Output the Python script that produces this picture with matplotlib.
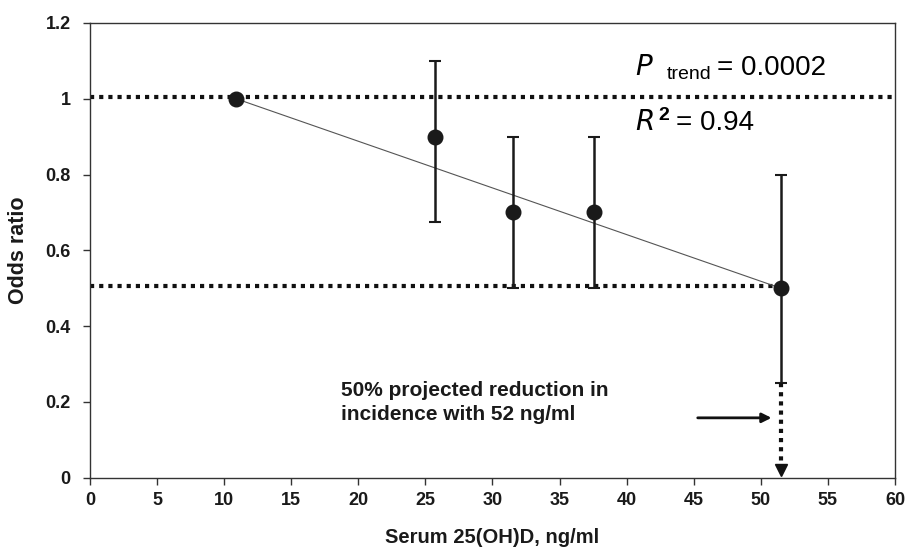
import numpy as np
import matplotlib.pyplot as plt

plt.rcParams["font.family"] = ["Liberation Sans", "DejaVu Sans"]

# Data
serum = [10.9, 25.7, 31.5, 37.6, 51.5]
odds = [1.0, 0.9, 0.7, 0.7, 0.5]
ci_low = [1.0, 0.675, 0.5, 0.5, 0.25]
ci_high = [1.0, 1.10, 0.9, 0.9, 0.8]

ref_levels = [1.005, 0.505]
arrow_y = 0.158
arrow_x = [45.3, 50.8]

fig = plt.figure(figsize=(9.06, 5.54), dpi=100)
ax = fig.add_axes([0.0993, 0.1377, 0.8885, 0.8208])

# dotted reference lines
dots = (0, (1, 1.2))
ax.plot([0, 60], [ref_levels[0]] * 2, color="#111111", lw=3, ls=dots, zorder=2)
ax.plot([0, serum[-1]], [ref_levels[1]] * 2, color="#111111", lw=3, ls=dots, zorder=2)

# trend line
ax.plot([serum[0], serum[-1]], [odds[0], odds[-1]], color="#555555", lw=0.8, zorder=3)

# error bars
yerr = [np.array(odds) - np.array(ci_low), np.array(ci_high) - np.array(odds)]
ax.errorbar(serum[1:], odds[1:], yerr=[yerr[0][1:], yerr[1][1:]], fmt="none",
            ecolor="#1a1a1a", elinewidth=1.8, capsize=4, capthick=1.5, zorder=4)
ax.plot(serum, odds, "o", color="#1a1a1a", markersize=10.5, zorder=5)

# projected vertical dotted arrow down to x axis
ax.plot([serum[-1]] * 2, [ci_low[-1], 0.015], color="#111111", lw=3, ls=dots, zorder=4)
ax.plot(serum[-1], 0.02, "v", color="#111111", markersize=8, zorder=5, clip_on=False)

# horizontal arrow pointing at it
ax.annotate("", xy=(arrow_x[1], arrow_y), xytext=(arrow_x[0], arrow_y),
            arrowprops=dict(arrowstyle="-|>", color="#111111", lw=2,
                            mutation_scale=14, shrinkA=0, shrinkB=0))

ax.text(18.7, 0.255, "50% projected reduction in\nincidence with 52 ng/ml",
        fontsize=15, fontweight="bold", va="top", ha="left", linespacing=1.35,
        color="#1a1a1a")

ax.text(40.6, 1.08, r"$\it{P}$", fontsize=20, va="center", ha="left")
ax.text(43.0, 1.063, "trend", fontsize=14, va="center", ha="left")
ax.text(46.7, 1.08, "= 0.0002", fontsize=20, va="center", ha="left")
ax.text(40.6, 0.935, r"$\it{R}$", fontsize=20, va="center", ha="left")
ax.text(42.35, 0.957, "2", fontsize=14, fontweight="bold", va="center", ha="left")
ax.text(43.7, 0.935, "= 0.94", fontsize=20, va="center", ha="left")

ax.set_xlim(0, 60)
ax.set_ylim(0, 1.2)
ax.set_xticks(np.arange(0, 61, 5))
ax.set_yticks([0, 0.2, 0.4, 0.6, 0.8, 1.0, 1.2])
ax.set_yticklabels(["0", "0.2", "0.4", "0.6", "0.8", "1", "1.2"])
ax.tick_params(direction="out", length=5, width=1, labelsize=13, color="#333333")
ax.tick_params(axis="x", pad=5)
ax.tick_params(axis="y", pad=9)
for lab in ax.get_xticklabels() + ax.get_yticklabels():
    lab.set_fontweight("bold")
    lab.set_color("#1a1a1a")
for s in ax.spines.values():
    s.set_color("#333333")
    s.set_linewidth(1)

ax.set_xlabel("Serum 25(OH)D, ng/ml", fontsize=14.5, fontweight="bold", labelpad=14,
              color="#1a1a1a")
ax.set_ylabel("Odds ratio", fontsize=15.5, fontweight="bold", labelpad=12,
              color="#1a1a1a")

fig.savefig("out.png", dpi=100)
